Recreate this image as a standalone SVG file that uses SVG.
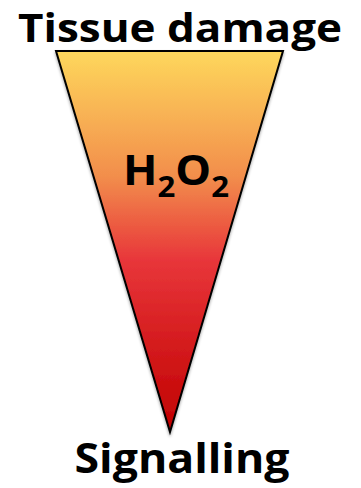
<svg xmlns="http://www.w3.org/2000/svg" width="361" height="488" viewBox="0 0 361 488">
<style>
.t{font-family:"Open Sans","Liberation Sans",sans-serif;font-weight:bold;fill:#000}
</style>
<defs>
<linearGradient id="g" x1="0" y1="50" x2="0" y2="432" gradientUnits="userSpaceOnUse">
<stop offset="0" stop-color="#FED85C"/>
<stop offset="0.33" stop-color="#F28E4C"/>
<stop offset="0.55" stop-color="#E8363A"/>
<stop offset="1" stop-color="#C00000"/>
</linearGradient>
<filter id="s" x="-10%" y="-10%" width="120%" height="120%">
<feGaussianBlur in="SourceAlpha" stdDeviation="1.5"/>
<feOffset dx="0" dy="1.5"/>
<feComponentTransfer><feFuncA type="linear" slope="0.35"/></feComponentTransfer>
<feMerge><feMergeNode/><feMergeNode in="SourceGraphic"/></feMerge>
</filter>
</defs>
<g id="triangle">
<polygon points="56,51 283,51 170,432" fill="url(#g)" stroke="#000" stroke-width="2" stroke-linejoin="miter" filter="url(#s)"/>
</g>
<g id="top-label">
<text class="t" x="180" y="42" font-size="40" text-anchor="middle" textLength="324" lengthAdjust="spacingAndGlyphs">Tissue damage</text>
</g>
<g id="h2o2">
<text class="t" x="123" y="185" font-size="42" textLength="106" lengthAdjust="spacingAndGlyphs">H<tspan font-size="29" dy="12">2</tspan><tspan dy="-12">O</tspan><tspan font-size="29" dy="12">2</tspan></text>
</g>
<g id="bottom-label">
<text class="t" x="182" y="473" font-size="42" text-anchor="middle" textLength="215" lengthAdjust="spacingAndGlyphs">Signalling</text>
</g>
</svg>
